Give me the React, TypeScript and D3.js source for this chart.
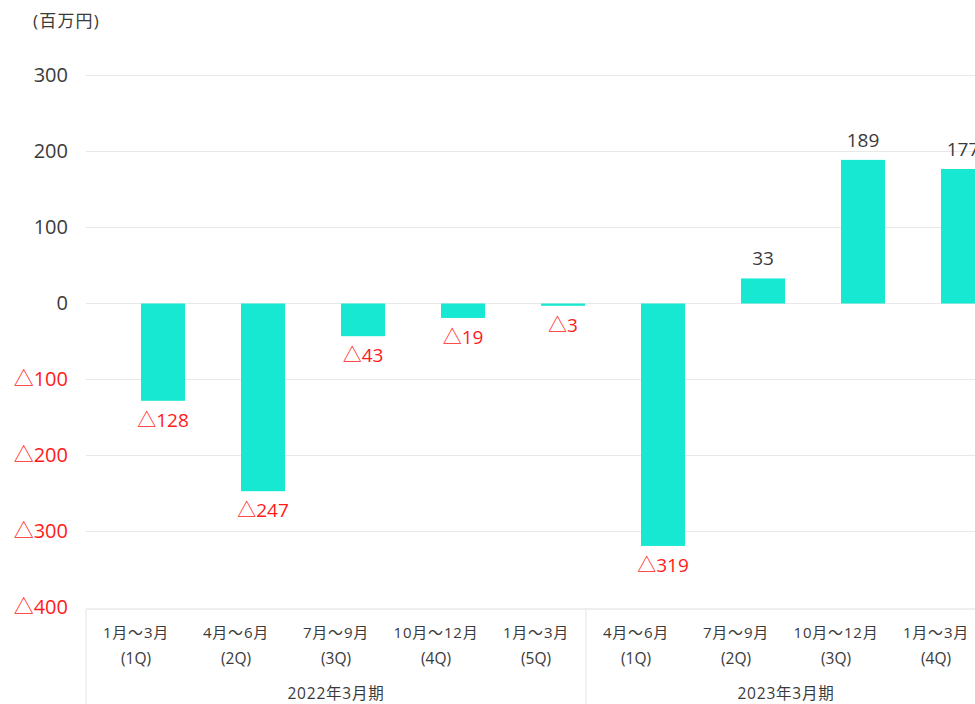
import * as d3 from "d3";

const quarters = ["1月～3月", "4月～6月", "7月～9月", "10月～12月", "1月～3月", "4月～6月", "7月～9月", "10月～12月", "1月～3月"];
const qLabels = ["(1Q)", "(2Q)", "(3Q)", "(4Q)", "(5Q)", "(1Q)", "(2Q)", "(3Q)", "(4Q)"];
const values = [-128, -247, -43, -19, -3, -319, 33, 189, 177];
const periods = ["2022年3月期", "2023年3月期"];
const periodSizes = [5, 4];
const yTicks = [300, 200, 100, 0, -100, -200, -300, -400];

const width = 975;
const height = 704;
const font = "'Open Sans', 'Noto Sans CJK JP', sans-serif";
const barColor = "#17e8d1";
const red = "#ff1a1a";
const textColor = "#3a3a3a";

const fmt = (v: number) => (v < 0 ? `△${Math.abs(v)}` : `${v}`);

export default function App() {
  const y = d3.scaleLinear().domain([-400, 300]).range([607, 75]);
  const idx = d3.range(values.length);
  const x = d3
    .scaleBand<number>()
    .domain(idx)
    .range([113, 1013])
    .paddingInner(0.56)
    .paddingOuter(0.28);
  const xl = d3.scaleBand<number>().domain(idx).range([86, 986]);

  let start = 0;
  const groups = periods.map((p, i) => {
    const g = { name: p, x0: xl(start)!, x1: xl(start + periodSizes[i] - 1)! + xl.bandwidth() };
    start += periodSizes[i];
    return g;
  });

  return (
    <svg
      width={width}
      height={height}
      style={{ position: "absolute", left: 0, top: 0, background: "#fff" }}
      fontFamily={font}
    >
      <text x={33} y={27} fontSize={17} letterSpacing={1.2} fill={textColor}>
        (百万円)
      </text>
      {yTicks.map((t) => (
        <g key={t}>
          {t > -400 && (
            <line x1={86} x2={width} y1={y(t) + 0.5} y2={y(t) + 0.5} stroke="#e8e8e8" strokeWidth={1} />
          )}
          <text
            x={68}
            y={y(t)}
            dy="0.36em"
            textAnchor="end"
            fontSize={20}
            fill={t < 0 ? red : textColor}
          >
            {fmt(t)}
          </text>
        </g>
      ))}
      {values.map((v, i) => {
        const bx = x(i)!;
        const top = y(Math.max(0, v)) + 0.5;
        const bottom = y(Math.min(0, v)) + 0.5;
        return (
          <g key={i}>
            <rect x={bx} y={top} width={x.bandwidth()} height={Math.max(1, bottom - top)} fill={barColor} />
            <text
              x={bx + x.bandwidth() / 2}
              y={v < 0 ? bottom + 26 : top - 13}
              textAnchor="middle"
              fontSize={19}
              fill={v < 0 ? red : textColor}
            >
              {fmt(v)}
            </text>
          </g>
        );
      })}
      <line x1={86} x2={width} y1={609} y2={609} stroke="#eeeeee" strokeWidth={2} />
      {groups.map((g) => (
        <g key={g.name}>
          <line x1={g.x0} x2={g.x0} y1={609} y2={height} stroke="#eeeeee" strokeWidth={1.5} />
          <text x={(g.x0 + g.x1) / 2} y={699} textAnchor="middle" fontSize={15.5} letterSpacing={0.8} fill={textColor}>
            {g.name}
          </text>
        </g>
      ))}
      {idx.map((i) => {
        const cx = xl(i)! + xl.bandwidth() / 2;
        return (
          <g key={i}>
            <text x={cx} y={638} textAnchor="middle" fontSize={15} letterSpacing={0.8} fill={textColor}>
              {quarters[i]}
            </text>
            <text x={cx} y={664} textAnchor="middle" fontSize={15.5} fill={textColor}>
              {qLabels[i]}
            </text>
          </g>
        );
      })}
    </svg>
  );
}
